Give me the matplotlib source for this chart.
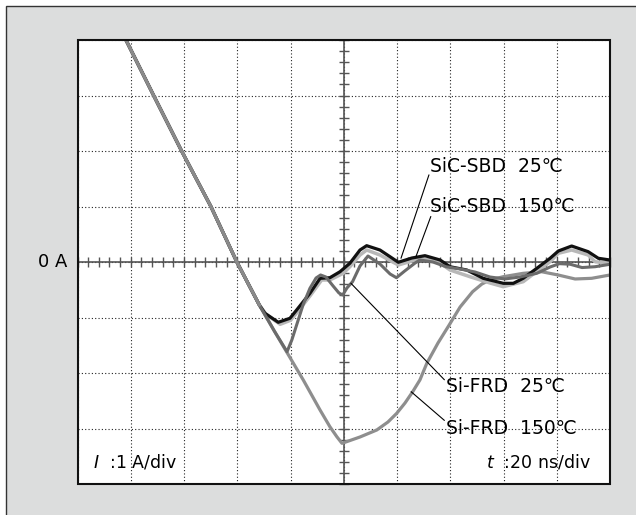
import numpy as np
import matplotlib
matplotlib.use("Agg")
import matplotlib.pyplot as plt
from matplotlib.patches import Rectangle
from matplotlib.ticker import MultipleLocator

plt.rcParams['font.family'] = ['DejaVu Sans', 'Noto Sans CJK JP']
plt.rcParams['mathtext.fontset'] = 'custom'
plt.rcParams['mathtext.it'] = 'DejaVu Sans:italic'

# ---- data (time in ns, current in A) ----
# shared falling edge (di/dt part)
fall_t = [-85.0, -81.8, -71.5, -60.9, -49.9, -40.2, -31.7]
fall_i = [4.33, 4.0, 3.01, 2.0, 1.0, 0.005, -0.775]

# SiC-SBD 25C
sbd25_t = [-29.6, -24.6, -20.2, -17.7, -12.7, -8.9, -5.2, -1.4, 2.3, 6.1, 8.6, 13.6,
           20.5, 25.6, 30.5, 36.2, 39.9, 46.2, 52.4, 59.9, 63.7, 67.4, 72.5, 77.5,
           80.6, 85.6, 91.8, 95.6, 100.0]
sbd25_i = [-0.924, -1.086, -1.014, -0.865, -0.564, -0.294, -0.283, -0.175, -0.023,
           0.216, 0.294, 0.216, -0.005, 0.072, 0.114, 0.036, -0.085, -0.144, -0.294,
           -0.384, -0.384, -0.294, -0.114, 0.067, 0.198, 0.288, 0.186, 0.067, 0.036]

# SiC-SBD 150C
sbd150_t = [-29.2, -23.9, -20.0, -17.1, -12.5, -8.3, -5.2, -0.2, 2.3, 6.1, 8.6, 13.6,
            20.5, 25.6, 29.9, 36.2, 39.9, 47.4, 54.9, 59.9, 67.4, 72.5, 77.5, 80.6,
            85.6, 91.8, 94.4, 100.0]
sbd150_i = [-0.94, -1.123, -1.05, -0.883, -0.6, -0.324, -0.324, -0.204, -0.085,
            0.126, 0.216, 0.126, -0.054, 0.018, 0.067, -0.018, -0.144, -0.265,
            -0.378, -0.445, -0.355, -0.17, 0.005, 0.157, 0.216, 0.126, 0.005, -0.023]

# Si-FRD 25C
frd25_t = [-26.0, -21.3, -19.5, -17.7, -15.3, -12.7, -10.4, -8.7, -6.7, -4.0, -1.8,
           -0.4, 1.2, 3.3, 6.1, 9.1, 13.6, 17.4, 19.8, 22.9, 26.8, 28.6, 33.5, 38.4,
           43.7, 49.3, 54.9, 60.5, 66.2, 72.5, 77.5, 81.0, 85.0, 89.5, 94.4, 100.0]
frd25_i = [-1.25, -1.616, -1.405, -1.135, -0.775, -0.474, -0.288, -0.234, -0.27,
           -0.432, -0.559, -0.595, -0.468, -0.355, -0.072, 0.108, -0.036, -0.216,
           -0.283, -0.162, -0.018, 0.036, 0.0, -0.085, -0.126, -0.18, -0.27, -0.306,
           -0.27, -0.204, -0.09, -0.03, -0.04, -0.1, -0.085, -0.041]

# Si-FRD 150C
frd150_t = [-26.0, -21.5, -15.2, -8.9, -5.2, -2.6, -0.66, 6.1, 12.4, 16.6, 19.9, 23.0,
            25.9, 28.6, 31.2, 35.4, 39.6, 43.7, 48.4, 51.9, 54.9, 59.9, 67.4, 74.3,
            80.5, 86.9, 93.1, 100.0]
frd150_i = [-1.25, -1.616, -2.126, -2.667, -2.968, -3.148, -3.267, -3.153, -3.027,
            -2.883, -2.726, -2.541, -2.337, -2.126, -1.825, -1.459, -1.135, -0.811,
            -0.535, -0.396, -0.324, -0.265, -0.204, -0.175, -0.234, -0.306, -0.294,
            -0.234]

labels = ['SiC-SBD  25℃', 'SiC-SBD  150℃', 'Si-FRD  25℃', 'Si-FRD  150℃']
label_pos = [(32.4, 1.717), (32.4, 0.996), (38.4, -2.247), (38.4, -2.996)]
leader_from = [(32.0, 1.57), (32.7, 0.82), (37.8, -2.122), (37.8, -2.854)]
leader_to = [(21.5, 0.067), (27.1, 0.095), (2.7, -0.384), (25.3, -2.337)]


def with_fall(t, i):
    return np.array(fall_t + t), np.array(fall_i + i)


fig = plt.figure(figsize=(6.36, 5.15), dpi=100)
fig.patches.append(Rectangle((6 / 636, -0.05), 1.2, 1.05 - 6 / 515,
                             transform=fig.transFigure, facecolor='#dcdddd',
                             edgecolor='#333333', lw=1.0, zorder=-10))

ax = fig.add_axes([77.5 / 636, 31 / 515, 532.5 / 636, 444 / 515])
ax.set_facecolor('white')
ax.set_xlim(-100, 100)
ax.set_ylim(-4, 4)

# centre cross with scope-style ticks
for side in ['top', 'right']:
    ax.spines[side].set_visible(False)
ax.spines['left'].set_position('zero')
ax.spines['bottom'].set_position('zero')
for side in ['left', 'bottom']:
    ax.spines[side].set_color('#555555')
    ax.spines[side].set_linewidth(1.2)
    ax.spines[side].set_zorder(2)
ax.xaxis.set_major_locator(MultipleLocator(20))
ax.xaxis.set_minor_locator(MultipleLocator(4))
ax.yaxis.set_major_locator(MultipleLocator(1))
ax.yaxis.set_minor_locator(MultipleLocator(0.2))
ax.tick_params(which='both', direction='inout', length=7, width=1.0,
               color='#555555', labelbottom=False, labelleft=False)
ax.grid(which='major', linestyle=(0, (1, 2)), color='#222222', lw=0.8, zorder=0)
ax.set_axisbelow(True)

# outer frame of the screen
ax.add_patch(Rectangle((0, 0), 1, 1, transform=ax.transAxes, fill=False,
                       edgecolor='#111111', lw=1.5, zorder=10, clip_on=False))

t, i = with_fall(frd150_t, frd150_i)
ax.plot(t, i, color='#8e8e8e', lw=2.3, zorder=3, solid_joinstyle='round')
t, i = with_fall(sbd150_t, sbd150_i)
ax.plot(t, i, color='#b8b8b8', lw=2.5, zorder=4)
t, i = with_fall(sbd25_t, sbd25_i)
ax.plot(t, i, color='#111111', lw=2.3, zorder=5)
t, i = with_fall(frd25_t, frd25_i)
ax.plot(t, i, color='#6b6b6b', lw=2.2, zorder=6)
# falling edge on top in the shared gray
ax.plot(fall_t, fall_i, color='#8a8a8a', lw=2.3, zorder=7)

for lab, pos, p0, p1 in zip(labels, label_pos, leader_from, leader_to):
    ax.text(pos[0], pos[1], lab, ha='left', va='center', fontsize=13.5, zorder=8)
    ax.annotate('', xy=p1, xytext=p0,
                arrowprops=dict(arrowstyle='-', lw=0.8, color='black',
                                shrinkA=0, shrinkB=0), zorder=8)

ax.text(0.03, 0.05, r'$\mathit{I}$  :1 A/div', transform=ax.transAxes,
        ha='left', va='center', fontsize=12.5)
ax.text(0.965, 0.05, r'$\mathit{t}$  :20 ns/div', transform=ax.transAxes,
        ha='right', va='center', fontsize=12.5)
ax.annotate('0 A', xy=(0, 0.5), xycoords='axes fraction', xytext=(-7, 0),
            textcoords='offset points', ha='right', va='center', fontsize=13)

fig.savefig('out.png', dpi=100)
